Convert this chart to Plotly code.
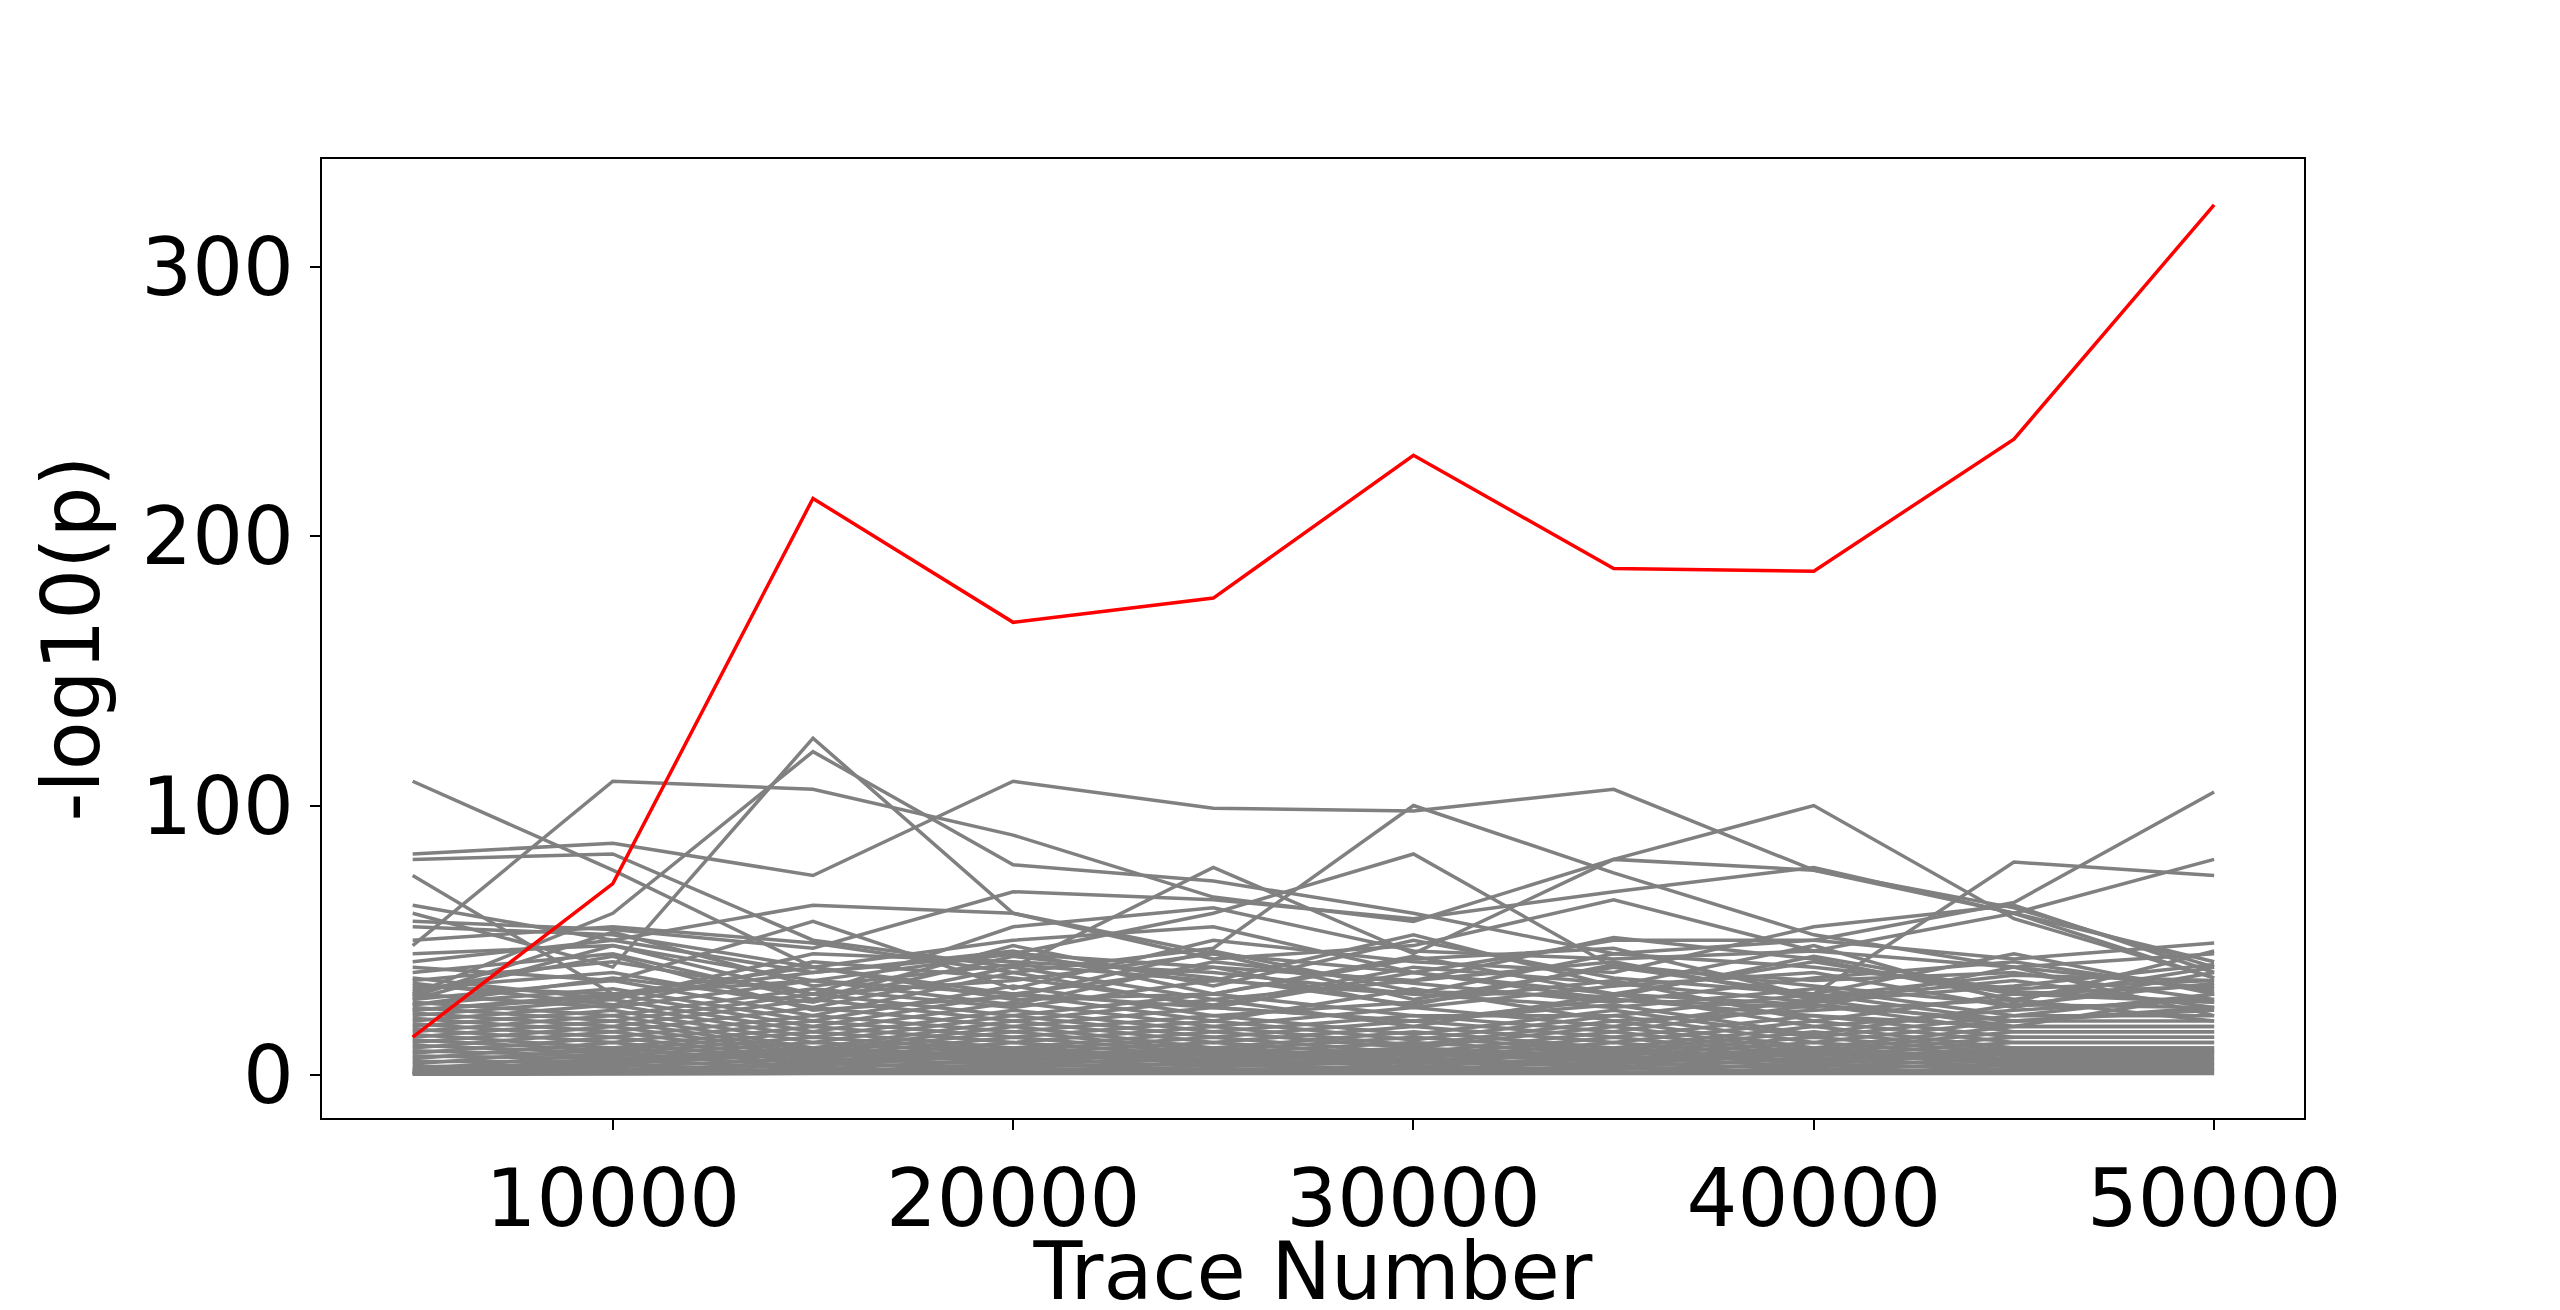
import plotly.graph_objects as go

trace_numbers = [5000, 10000, 15000, 20000, 25000, 30000, 35000, 40000, 45000, 50000]

target_logp = [14, 71, 214, 168, 177, 230, 188, 187, 236, 323]

other_logp = [
    [109, 76, 40, 30, 25, 20, 28, 22, 18, 30],
    [82, 86, 74, 109, 99, 98, 106, 76, 62, 40],
    [48, 109, 106, 89, 66, 57, 80, 100, 58, 36],
    [60, 40, 125, 60, 45, 38, 30, 26, 20, 25],
    [30, 60, 120, 78, 72, 60, 45, 50, 64, 105],
    [80, 82, 50, 40, 77, 45, 80, 76, 60, 80],
    [74, 30, 35, 45, 60, 82, 40, 30, 79, 74],
    [63, 50, 63, 60, 43, 48, 65, 46, 60, 36],
    [57, 54, 47, 68, 65, 58, 68, 77, 60, 42],
    [55, 52, 40, 50, 55, 38, 50, 50, 43, 49],
    [50, 55, 49, 38, 47, 100, 75, 52, 40, 32],
    [45, 48, 30, 55, 62, 46, 43, 46, 40, 45],
    [42, 50, 38, 45, 40, 35, 51, 43, 28, 40],
    [40, 35, 57, 32, 50, 42, 38, 55, 63, 38],
    [38, 45, 28, 48, 33, 50, 36, 30, 45, 30],
    [36, 28, 45, 42, 38, 30, 45, 40, 32, 35],
    [35, 42, 30, 35, 45, 28, 40, 35, 38, 28],
    [33, 30, 40, 28, 30, 44, 30, 42, 30, 33],
    [32, 38, 25, 40, 28, 35, 42, 28, 35, 25],
    [30, 25, 35, 30, 40, 25, 33, 38, 25, 38],
    [28, 35, 22, 38, 25, 38, 28, 25, 40, 22],
    [27, 22, 32, 25, 35, 30, 25, 32, 22, 30],
    [26, 32, 20, 33, 22, 27, 35, 20, 30, 27],
    [25, 20, 30, 22, 30, 22, 22, 30, 20, 24],
    [24, 30, 18, 30, 20, 32, 20, 24, 28, 20],
    [23, 18, 28, 20, 28, 18, 30, 18, 24, 28],
    [22, 28, 16, 27, 18, 25, 18, 28, 18, 18],
    [21, 16, 25, 18, 25, 20, 26, 15, 26, 25],
    [20, 26, 14, 24, 16, 22, 16, 26, 16, 16],
    [19, 14, 22, 16, 22, 15, 24, 14, 22, 22],
    [18, 24, 12, 22, 14, 20, 14, 22, 14, 14],
    [17, 12, 20, 14, 20, 13, 22, 12, 20, 20],
    [16, 22, 10, 20, 12, 18, 12, 20, 12, 12],
    [15, 10, 18, 12, 18, 11, 20, 10, 18, 18],
    [14, 20, 9, 18, 10, 16, 10, 18, 10, 10],
    [13, 9, 16, 10, 16, 10, 18, 9, 16, 16],
    [12, 18, 8, 16, 9, 14, 9, 16, 9, 9],
    [11, 8, 14, 9, 14, 8, 16, 8, 14, 14],
    [10, 16, 7, 14, 8, 12, 8, 14, 8, 8],
    [9, 7, 12, 8, 12, 7, 14, 7, 12, 12],
    [8, 14, 6, 12, 7, 10, 7, 12, 7, 7],
    [7, 6, 10, 7, 10, 6, 12, 6, 10, 10],
    [6, 12, 5, 10, 6, 9, 6, 10, 6, 6],
    [5, 5, 9, 6, 9, 5, 10, 5, 9, 9],
    [4, 10, 4, 9, 5, 8, 5, 9, 5, 5],
    [3, 4, 8, 5, 8, 4, 9, 4, 8, 8],
    [2, 8, 3, 8, 4, 6, 4, 8, 4, 4],
    [2, 3, 6, 4, 6, 3, 7, 3, 6, 6],
    [1, 6, 2, 6, 3, 5, 3, 6, 3, 3],
    [1, 2, 4, 3, 4, 2, 5, 2, 4, 4],
    [1, 4, 1, 4, 2, 3, 2, 4, 2, 2],
    [0.5, 1, 2, 2, 2, 1, 3, 1, 2, 2],
    [0.5, 2, 1, 1, 1, 2, 1, 2, 1, 1],
    [0.2, 0.5, 0.5, 0.5, 0.5, 0.5, 0.5, 0.5, 0.5, 0.5],
    [28, 48, 35, 26, 42, 34, 27, 36, 42, 31],
    [34, 26, 42, 36, 26, 40, 34, 27, 33, 41],
    [26, 36, 27, 44, 36, 26, 41, 33, 26, 34],
    [31, 44, 24, 29, 46, 31, 29, 44, 31, 27],
    [24, 29, 38, 46, 30, 43, 47, 29, 37, 35],
    [29, 53, 33, 41, 35, 52, 33, 48, 27, 46],
]

fig = go.Figure()
for row in other_logp:
    fig.add_trace(go.Scatter(x=trace_numbers, y=row, mode="lines",
                             line=dict(color="gray", width=3.5), showlegend=False))
fig.add_trace(go.Scatter(x=trace_numbers, y=target_logp, mode="lines",
                         line=dict(color="red", width=3.5), showlegend=False))

axis_style = dict(showgrid=False, zeroline=False, showline=True, linecolor="black",
                  linewidth=2, mirror=True, ticks="outside", ticklen=10, tickwidth=2,
                  tickcolor="black", tickfont=dict(size=80, color="black"))
fig.update_xaxes(title_text="Trace Number", title_font=dict(size=80, color="black"),
                 range=[2735, 52245], tickvals=[10000, 20000, 30000, 40000, 50000],
                 tickformat="d", title_standoff=5, **axis_style)
fig.update_yaxes(title_text="-log10(p)", title_font=dict(size=80, color="black"),
                 range=[-16, 340], tickvals=[0, 100, 200, 300], **axis_style)
fig.update_layout(width=2560, height=1310, plot_bgcolor="white", paper_bgcolor="white",
                  font=dict(family="DejaVu Sans"),
                  margin=dict(l=314, r=264, t=151, b=104))
fig.write_html("out.html")
